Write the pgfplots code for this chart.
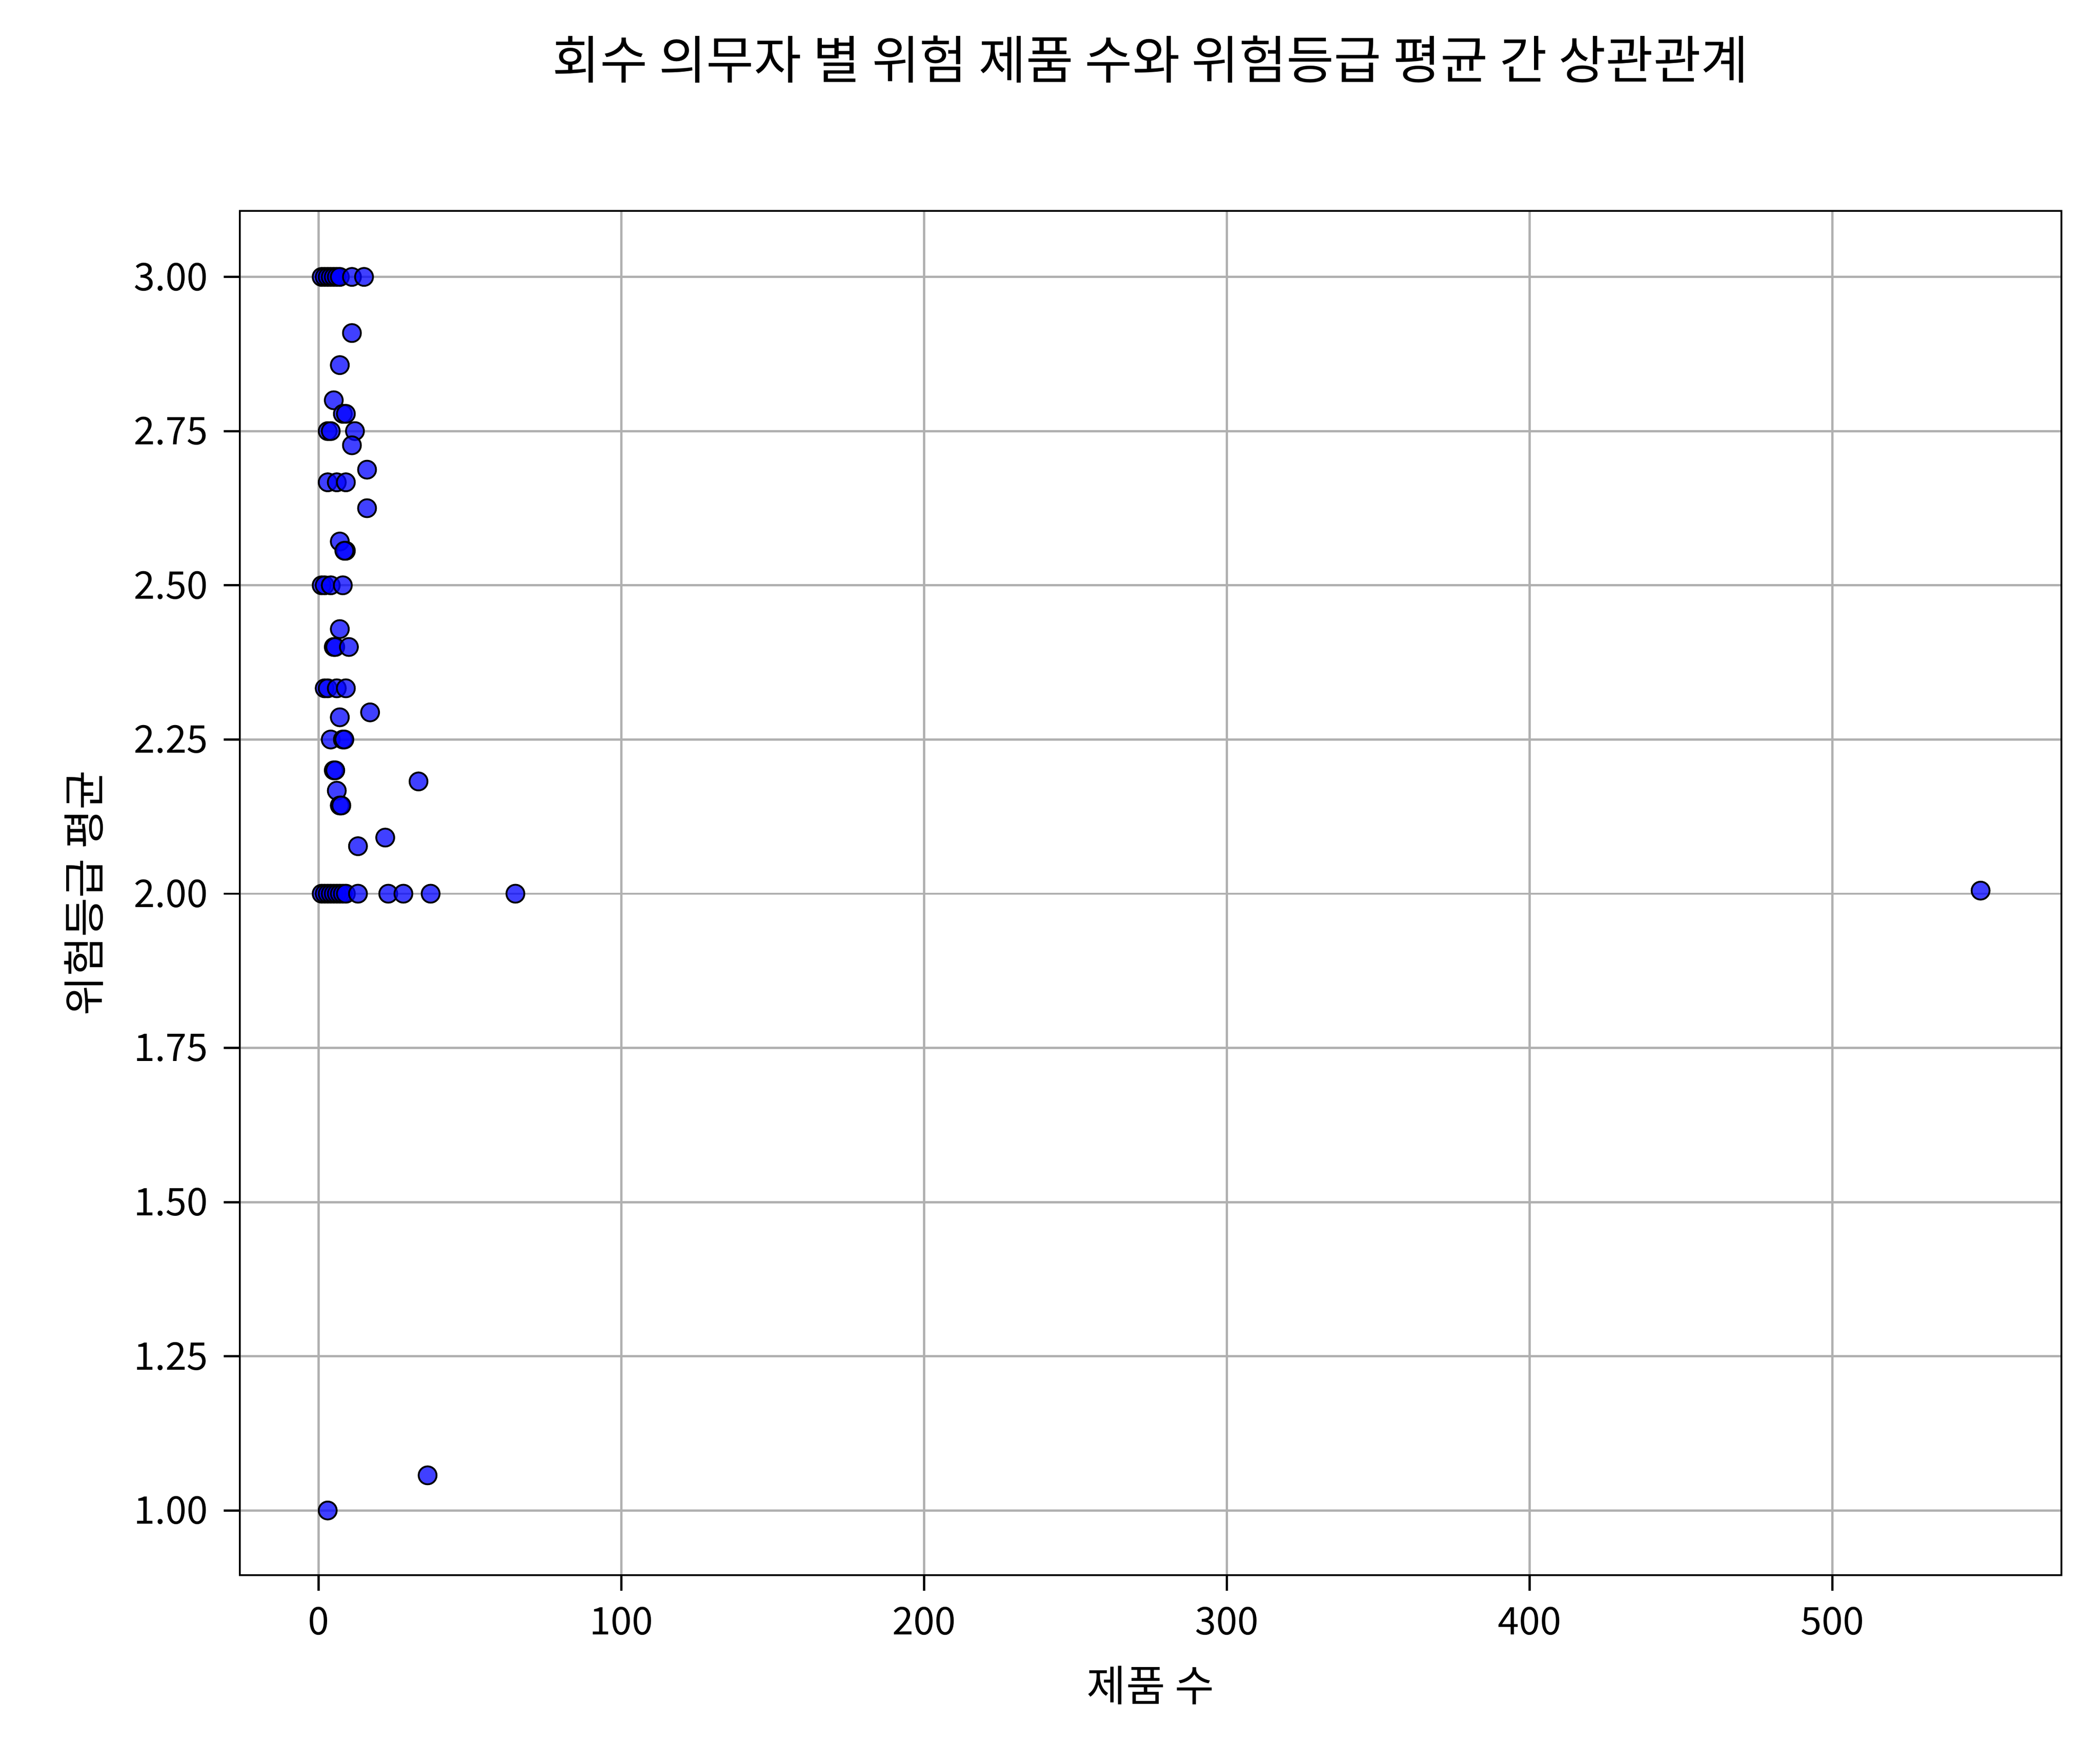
\documentclass[border=0pt]{standalone}
\usepackage{pgfplots}
\pgfplotsset{compat=1.18}
\usepackage{fontspec}
\setmainfont{Noto Sans CJK KR}
\begin{document}
\begin{tikzpicture}
\path (-53.4pt,-42pt) rectangle (414.6pt,351pt);
\begin{axis}[
  width=406pt, height=304pt, scale only axis,
  xmin=-26.1, xmax=575.7, ymin=0.895, ymax=3.107,
  xtick={0,100,200,300,400,500},
  ytick={1,1.25,1.5,1.75,2,2.25,2.5,2.75,3},
  yticklabel style={/pgf/number format/.cd,fixed,fixed zerofill,precision=2},
  /pgf/number format/assume math mode=true,
  ticklabel style={font=\fontsize{8.5}{10}\selectfont},
  grid=major, grid style={color=black!31, line width=0.5pt},
  xtick pos=lower, ytick pos=left,
  tick align=outside, major tick length=3.5pt,
  major tick style={black, line width=0.5pt},
  xlabel={제품 수}, ylabel={위험등급 평균},
  label style={font=\fontsize{9.5}{11}\selectfont},
  title={회수 의무자 별 위험 제품 수와 위험등급 평균 간 상관관계},
  title style={font=\fontsize{11.5}{13}\selectfont, yshift=19pt},
]
\addplot[only marks, mark=*, mark size=2pt, mark options={draw=none, fill=blue, fill opacity=0.75}] coordinates {
(1,3)(2,3)(3,3)(4,3)(5,3)(6,3)(7,3)(11,3)(15,3)
(11,2.909)(7,2.857)(5,2.8)(8,2.778)(9,2.778)(3,2.75)(4,2.75)(12,2.75)(11,2.727)
(16,2.6875)(3,2.667)(6,2.667)(9,2.667)(16,2.625)(7,2.571)(9,2.556)(8.5,2.556)
(1,2.5)(2,2.5)(4,2.5)(8,2.5)(7,2.429)(5,2.4)(5.5,2.4)(10,2.4)
(2,2.333)(3,2.333)(6,2.333)(9,2.333)(17,2.294)(7,2.286)(4,2.25)(8,2.25)(8.5,2.25)
(5,2.2)(5.5,2.2)(33,2.182)(6,2.167)(7,2.143)(7.5,2.143)(22,2.091)(13,2.077)
(1,2)(2,2)(3,2)(4,2)(5,2)(6,2)(7,2)(8,2)(9,2)(13,2)(23,2)(28,2)(37,2)(65,2)
(549,2.005)(36,1.057)(3,1)
};
\end{axis}
\end{tikzpicture}
\end{document}
